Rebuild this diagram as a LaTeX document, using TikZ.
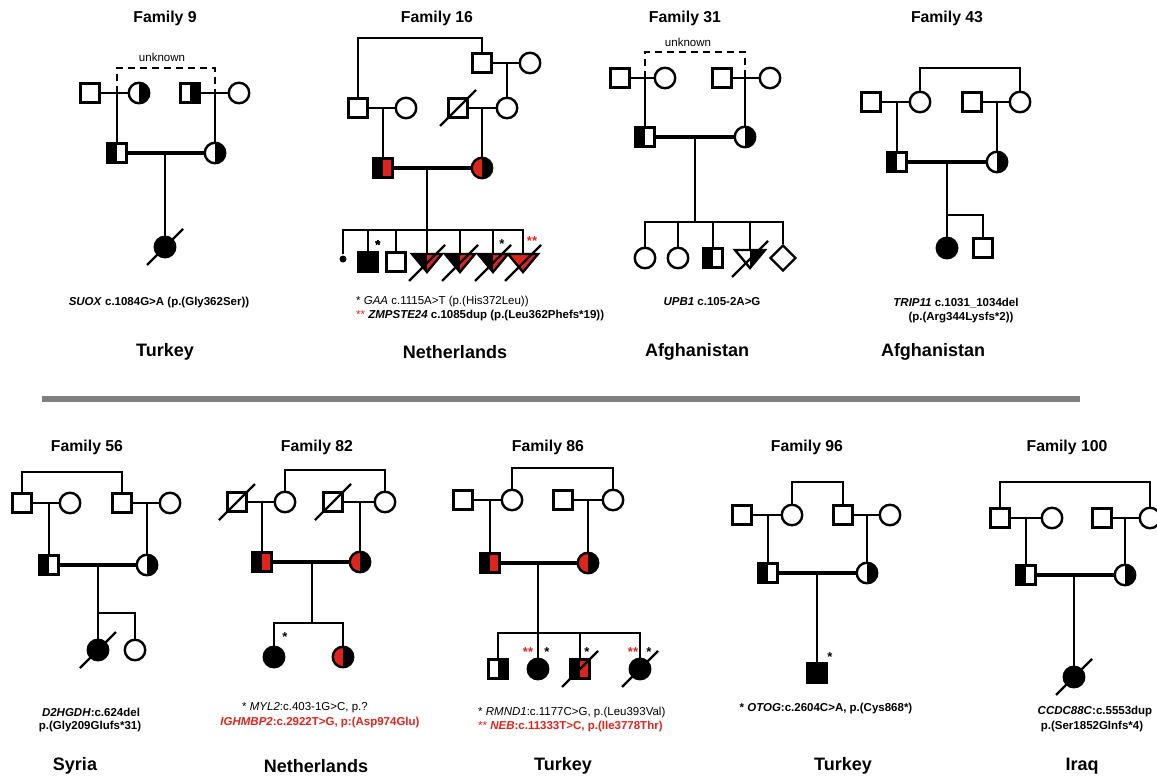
\documentclass[tikz,border=0pt]{standalone}
\usepackage{fontspec}
\setmainfont{Liberation Sans}
\usetikzlibrary{shapes.geometric}
\definecolor{MutRed}{RGB}{221,37,30}
\definecolor{SepGray}{RGB}{128,128,128}

\tikzset{
  symline/.style={line width=2.4pt},
  male/.style={draw, rectangle, symline, minimum size=19pt, inner sep=0pt},
  female/.style={draw, circle, symline, minimum size=20.5pt, inner sep=0pt},
  unsexed/.style={draw, diamond, symline, aspect=1, minimum size=26pt, inner sep=0pt},
  halves/.style 2 args={path picture={
      \fill[#1] (path picture bounding box.south west) rectangle (path picture bounding box.north);
      \fill[#2] (path picture bounding box.south) rectangle (path picture bounding box.north east);}},
  lhalf/.style={halves={black}{white}},
  rhalf/.style={halves={white}{black}},
  affected/.style={fill=black},
  matingline/.style={line width=4.6pt},
  unkline/.style={symline, dash pattern=on 7pt off 5pt},
  famtitle/.style={font=\bfseries\fontsize{15.8}{18}\selectfont},
  land/.style={font=\bfseries\fontsize{18}{21}\selectfont},
  mut/.style={font=\fontsize{11.5}{13}\selectfont, inner sep=0pt},
  astx/.style={font=\bfseries\fontsize{13}{14}\selectfont, inner sep=0pt},
}

% slash through a deceased person
\newcommand{\deadmark}[1]{\draw[symline] ([shift={(-18,18)}]#1.center) -- ([shift={(18,-18)}]#1.center);}
% pregnancy loss: name, centre, left colour, right colour
\newcommand{\losstri}[4]{%
  \coordinate (#1) at (#2);
  \fill[#3] ([shift={(-15,-9)}]#1) -- ([shift={(0,-9)}]#1) -- ([shift={(0,9)}]#1) -- cycle;
  \fill[#4] ([shift={(0,-9)}]#1) -- ([shift={(15,-9)}]#1) -- ([shift={(0,9)}]#1) -- cycle;
  \draw[symline] ([shift={(-15,-9)}]#1) -- ([shift={(15,-9)}]#1) -- ([shift={(0,9)}]#1) -- cycle;
  \coordinate (#1top) at ([shift={(0,-9)}]#1);}

\begin{document}
\begin{tikzpicture}[x=1pt, y=-1pt, line width=2.4pt]
\fill[white] (0,0) rectangle (1157,781);
\useasboundingbox (0,0) rectangle (1157,781);

% ---------------- Family 9
\node[famtitle] (f9title) at (165,18) {Family 9};
\node[male] (f9gf1) at (90,93) {};
\node[female, rhalf] (f9gm1) at (139,93) {};
\node[male, rhalf] (f9gf2) at (190,93) {};
\node[female] (f9gm2) at (239,93) {};
\coordinate (f9m1) at (117,93);
\coordinate (f9m2) at (215,93);
\node[male, lhalf] (f9fa) at (117,153) {};
\node[female, rhalf] (f9mo) at (215,153) {};
\coordinate (f9d) at (165,153);
\node[female, affected] (f9c1) at (165,247) {};
\draw (f9gf1) -- (f9gm1);
\draw (f9gf2) -- (f9gm2);
\draw[unkline] (f9m1) -- ++(0,-25) -| (f9m2);
\node[mut] (f9unk) at (162,57) {unknown};
\draw (f9m1) -- (f9fa);
\draw (f9m2) -- (f9mo);
\draw[matingline] (f9fa) -- (f9mo);
\draw (f9d) -- (f9c1);
\deadmark{f9c1}
\node[mut] (f9mut) at (159,303) {\textbf{\textit{SUOX} c.1084G>A (p.(Gly362Ser))}};
\node[land] (f9land) at (165,352) {Turkey};

% ---------------- Family 16
\node[famtitle] (f16title) at (437,18) {Family 16};
\node[male] (f16ggf) at (482,63) {};
\node[female] (f16ggm) at (530,63) {};
\coordinate (f16m0) at (507,63);
\node[male] (f16pgf) at (358,108) {};
\node[female] (f16pgm) at (406,108) {};
\coordinate (f16m1) at (383,108);
\node[male] (f16mgf) at (458,108) {};
\node[female] (f16mgm) at (507,108) {};
\coordinate (f16m2) at (482,108);
\node[male, halves={black}{MutRed}] (f16fa) at (383,168) {};
\node[female, halves={MutRed}{black}] (f16mo) at (482,168) {};
\coordinate (f16d) at (427,168);
\coordinate (f16s) at (427,230);
\node[circle, fill, inner sep=0pt, minimum size=7pt] (f16c1) at (343,259) {};
\node[male, affected] (f16c2) at (368,262) {};
\node[male] (f16c3) at (396,262) {};
\losstri{f16t1}{427,263}{black}{MutRed}
\losstri{f16t2}{460,263}{black}{MutRed}
\losstri{f16t3}{493,263}{black}{MutRed}
\losstri{f16t4}{523,263}{MutRed}{MutRed}
\draw (f16ggf) -- (f16ggm);
\draw (f16m0) -- (f16mgm);
\draw (f16pgf) -- ++(0,-70) -| (f16ggf);
\draw (f16pgf) -- (f16pgm);
\draw (f16mgf) -- (f16mgm);
\deadmark{f16mgf}
\draw (f16m1) -- (f16fa);
\draw (f16m2) -- (f16mo);
\draw[matingline] (f16fa) -- (f16mo);
\draw (f16d) -- (f16t1top);
\draw (f16c1) |- (f16s) -| (f16t4top);
\foreach \k in {c2,c3,t2top,t3top}
  \draw (f16\k) -- (f16\k |- f16s);
\foreach \k in {t1,t2,t3,t4}
  \deadmark{f16\k}
\node[astx] (f16a1) at (378,245) {*};
\node[astx] (f16a2) at (502,244) {*};
\node[astx, text=MutRed] (f16a3) at (532,241) {**};
\node[mut, anchor=west] (f16mutA) at (355,302) {* \textit{GAA} c.1115A>T (p.(His372Leu))};
\node[mut, anchor=west] (f16mutB) at (355,316) {\textcolor{MutRed}{**} \textbf{\textit{ZMPSTE24} c.1085dup (p.(Leu362Phefs*19))}};
\node[land] (f16land) at (455,352) {Netherlands};

% ---------------- Family 31
\node[famtitle] (f31title) at (685,18) {Family 31};
\node[male] (f31gf1) at (620,78) {};
\node[female] (f31gm1) at (665,78) {};
\coordinate (f31m1) at (645,78);
\node[male] (f31gf2) at (722,78) {};
\node[female] (f31gm2) at (770,78) {};
\coordinate (f31m2) at (745,78);
\node[male, lhalf] (f31fa) at (645,137) {};
\node[female, rhalf] (f31mo) at (745,137) {};
\coordinate (f31d) at (695,137);
\coordinate (f31s) at (695,222);
\node[female] (f31c1) at (645,258) {};
\node[female] (f31c2) at (678,258) {};
\node[male, lhalf] (f31c3) at (713,258) {};
\losstri{f31c4}{750,259}{white}{black}
\node[unsexed] (f31c5) at (783,258) {};
\draw (f31gf1) -- (f31gm1);
\draw (f31gf2) -- (f31gm2);
\draw[unkline] (f31m1) -- ++(0,-26) -| (f31m2);
\node[mut] (f31unk) at (688,42) {unknown};
\draw (f31m1) -- (f31fa);
\draw (f31m2) -- (f31mo);
\draw[matingline] (f31fa) -- (f31mo);
\draw (f31d) -- (f31s);
\draw (f31c1) |- (f31s) -| (f31c5);
\foreach \k in {c2,c3,c4top}
  \draw (f31\k) -- (f31\k |- f31s);
\deadmark{f31c4}
\node[mut] (f31mut) at (712,302) {\textbf{\textit{UPB1} c.105-2A>G}};
\node[land] (f31land) at (697,352) {Afghanistan};

% ---------------- Family 43
\node[famtitle] (f43title) at (947,18) {Family 43};
\node[male] (f43gf1) at (871,102) {};
\node[female] (f43gm1) at (920,102) {};
\coordinate (f43m1) at (897,102);
\node[male] (f43gf2) at (972,102) {};
\node[female] (f43gm2) at (1020,102) {};
\coordinate (f43m2) at (997,102);
\node[male, lhalf] (f43fa) at (897,162) {};
\node[female, rhalf] (f43mo) at (997,162) {};
\coordinate (f43d) at (947,162);
\coordinate (f43s) at (947,215);
\node[female, affected] (f43c1) at (947,248) {};
\node[male] (f43c2) at (983,248) {};
\draw (f43gf1) -- (f43gm1);
\draw (f43gf2) -- (f43gm2);
\draw (f43gm1) -- ++(0,-34) -| (f43gm2);
\draw (f43m1) -- (f43fa);
\draw (f43m2) -- (f43mo);
\draw[matingline] (f43fa) -- (f43mo);
\draw (f43d) -- (f43c1);
\draw (f43s) -| (f43c2);
\node[mut] (f43mutA) at (956,303) {\textbf{\textit{TRIP11} c.1031\_1034del}};
\node[mut] (f43mutB) at (961,318) {\textbf{(p.(Arg344Lysfs*2))}};
\node[land] (f43land) at (933,352) {Afghanistan};

% separator
\draw[SepGray, line width=6pt] (42,399) -- (1080,399);

% ---------------- Family 56
\node[famtitle] (f56title) at (87,447) {Family 56};
\node[male] (f56gf1) at (22,503) {};
\node[female] (f56gm1) at (70,503) {};
\coordinate (f56m1) at (49,503);
\node[male] (f56gf2) at (122,503) {};
\node[female] (f56gm2) at (170,503) {};
\coordinate (f56m2) at (147,503);
\node[male, lhalf] (f56fa) at (49,565) {};
\node[female, rhalf] (f56mo) at (147,565) {};
\coordinate (f56d) at (98,565);
\coordinate (f56s) at (98,613);
\node[female, affected] (f56c1) at (98,650) {};
\node[female] (f56c2) at (135,650) {};
\draw (f56gf1) -- (f56gm1);
\draw (f56gf2) -- (f56gm2);
\draw (f56gf1) -- ++(0,-31) -| (f56gf2);
\draw (f56m1) -- (f56fa);
\draw (f56m2) -- (f56mo);
\draw[matingline] (f56fa) -- (f56mo);
\draw (f56d) -- (f56c1);
\draw (f56s) -| (f56c2);
\deadmark{f56c1}
\node[mut] (f56mutA) at (91,712) {\textbf{\textit{D2HGDH}:c.624del}};
\node[mut] (f56mutB) at (90,727) {\textbf{p.(Gly209Glufs*31)}};
\node[land] (f56land) at (75,766) {Syria};

% ---------------- Family 82
\node[famtitle] (f82title) at (317,447) {Family 82};
\node[male] (f82gf1) at (237,502) {};
\node[female] (f82gm1) at (285,502) {};
\coordinate (f82m1) at (262,502);
\node[male] (f82gf2) at (333,502) {};
\node[female] (f82gm2) at (385,502) {};
\coordinate (f82m2) at (360,502);
\node[male, halves={black}{MutRed}] (f82fa) at (262,562) {};
\node[female, halves={MutRed}{black}] (f82mo) at (360,562) {};
\coordinate (f82d) at (312,562);
\coordinate (f82s) at (312,623);
\node[female, affected] (f82c1) at (274,657) {};
\node[female, halves={MutRed}{black}] (f82c2) at (343,657) {};
\draw (f82gf1) -- (f82gm1);
\draw (f82gf2) -- (f82gm2);
\deadmark{f82gf1}
\deadmark{f82gf2}
\draw (f82gm1) -- ++(0,-32) -| (f82gm2);
\draw (f82m1) -- (f82fa);
\draw (f82m2) -- (f82mo);
\draw[matingline] (f82fa) -- (f82mo);
\draw (f82d) -- (f82s);
\draw (f82c1) |- (f82s) -| (f82c2);
\node[astx] (f82a1) at (285,637) {*};
\node[mut] (f82mutA) at (305,708) {* \textit{MYL2}:c.403-1G>C, p.?};
\node[mut, text=MutRed] (f82mutB) at (320,723) {\textbf{\textit{IGHMBP2}:c.2922T>G, p:(Asp974Glu)}};
\node[land] (f82land) at (316,766) {Netherlands};

% ---------------- Family 86
\node[famtitle] (f86title) at (548,447) {Family 86};
\node[male] (f86gf1) at (463,500) {};
\node[female] (f86gm1) at (512,500) {};
\coordinate (f86m1) at (490,500);
\node[male] (f86gf2) at (563,500) {};
\node[female] (f86gm2) at (613,500) {};
\coordinate (f86m2) at (588,500);
\node[male, halves={black}{MutRed}] (f86fa) at (490,563) {};
\node[female, halves={MutRed}{black}] (f86mo) at (588,563) {};
\coordinate (f86d) at (538,563);
\coordinate (f86s) at (538,633);
\node[male, rhalf] (f86c1) at (498,669) {};
\node[female, affected] (f86c2) at (538,669) {};
\node[male, halves={black}{MutRed}] (f86c3) at (580,669) {};
\node[female, affected] (f86c4) at (640,669) {};
\draw (f86gf1) -- (f86gm1);
\draw (f86gf2) -- (f86gm2);
\draw (f86gm1) -- ++(0,-32) -| (f86gm2);
\draw (f86m1) -- (f86fa);
\draw (f86m2) -- (f86mo);
\draw[matingline] (f86fa) -- (f86mo);
\draw (f86d) -- (f86c2);
\draw (f86c1) |- (f86s) -| (f86c4);
\draw (f86c3) -- (f86c3 |- f86s);
\deadmark{f86c3}
\deadmark{f86c4}
\node[astx, text=MutRed] (f86a1) at (528,652) {**};
\node[astx] (f86a2) at (547,652) {*};
\node[astx] (f86a3) at (587,652) {*};
\node[astx, text=MutRed] (f86a4) at (633,652) {**};
\node[astx] (f86a5) at (649,652) {*};
\node[mut, anchor=west] (f86mutA) at (477,713) {* \textit{RMND1}:c.1177C>G, p.(Leu393Val)};
\node[mut, anchor=west, text=MutRed] (f86mutB) at (477,727) {** \textbf{\textit{NEB}:c.11333T>C, p.(Ile3778Thr)}};
\node[land] (f86land) at (563,766) {Turkey};

% ---------------- Family 96
\node[famtitle] (f96title) at (807,447) {Family 96};
\node[male] (f96gf1) at (742,515) {};
\node[female] (f96gm1) at (792,515) {};
\coordinate (f96m1) at (768,515);
\node[male] (f96gf2) at (843,515) {};
\node[female] (f96gm2) at (890,515) {};
\coordinate (f96m2) at (867,515);
\node[male, lhalf] (f96fa) at (768,573) {};
\node[female, rhalf] (f96mo) at (867,573) {};
\coordinate (f96d) at (817,573);
\node[male, affected] (f96c1) at (817,673) {};
\draw (f96gf1) -- (f96gm1);
\draw (f96gf2) -- (f96gm2);
\draw (f96gm1) -- ++(0,-33) -| (f96gf2);
\draw (f96m1) -- (f96fa);
\draw (f96m2) -- (f96mo);
\draw[matingline] (f96fa) -- (f96mo);
\draw (f96d) -- (f96c1);
\node[astx] (f96a1) at (830,657) {*};
\node[mut] (f96mut) at (826,709) {\textbf{* \textit{OTOG}:c.2604C>A, p.(Cys868*)}};
\node[land] (f96land) at (843,766) {Turkey};

% ---------------- Family 100
\node[famtitle] (f100title) at (1067,447) {Family 100};
\node[male] (f100gf1) at (1000,518) {};
\node[female] (f100gm1) at (1052,518) {};
\coordinate (f100m1) at (1026,518);
\node[male] (f100gf2) at (1102,518) {};
\node[female] (f100gm2) at (1150,518) {};
\coordinate (f100m2) at (1125,518);
\node[male, lhalf] (f100fa) at (1026,575) {};
\node[female, rhalf] (f100mo) at (1125,575) {};
\coordinate (f100d) at (1074,575);
\node[female, affected] (f100c1) at (1074,677) {};
\draw (f100gf1) -- (f100gm1);
\draw (f100gf2) -- (f100gm2);
\draw (f100gf1) -- ++(0,-36) -| (f100gm2);
\draw (f100m1) -- (f100fa);
\draw (f100m2) -- (f100mo);
\draw[matingline] (f100fa) -- (f100mo);
\draw (f100d) -- (f100c1);
\deadmark{f100c1}
\node[mut] (f100mutA) at (1095,712) {\textbf{\textit{CCDC88C}:c.5553dup}};
\node[mut] (f100mutB) at (1092,727) {\textbf{p.(Ser1852Glnfs*4)}};
\node[land] (f100land) at (1082,766) {Iraq};

\end{tikzpicture}
\end{document}
